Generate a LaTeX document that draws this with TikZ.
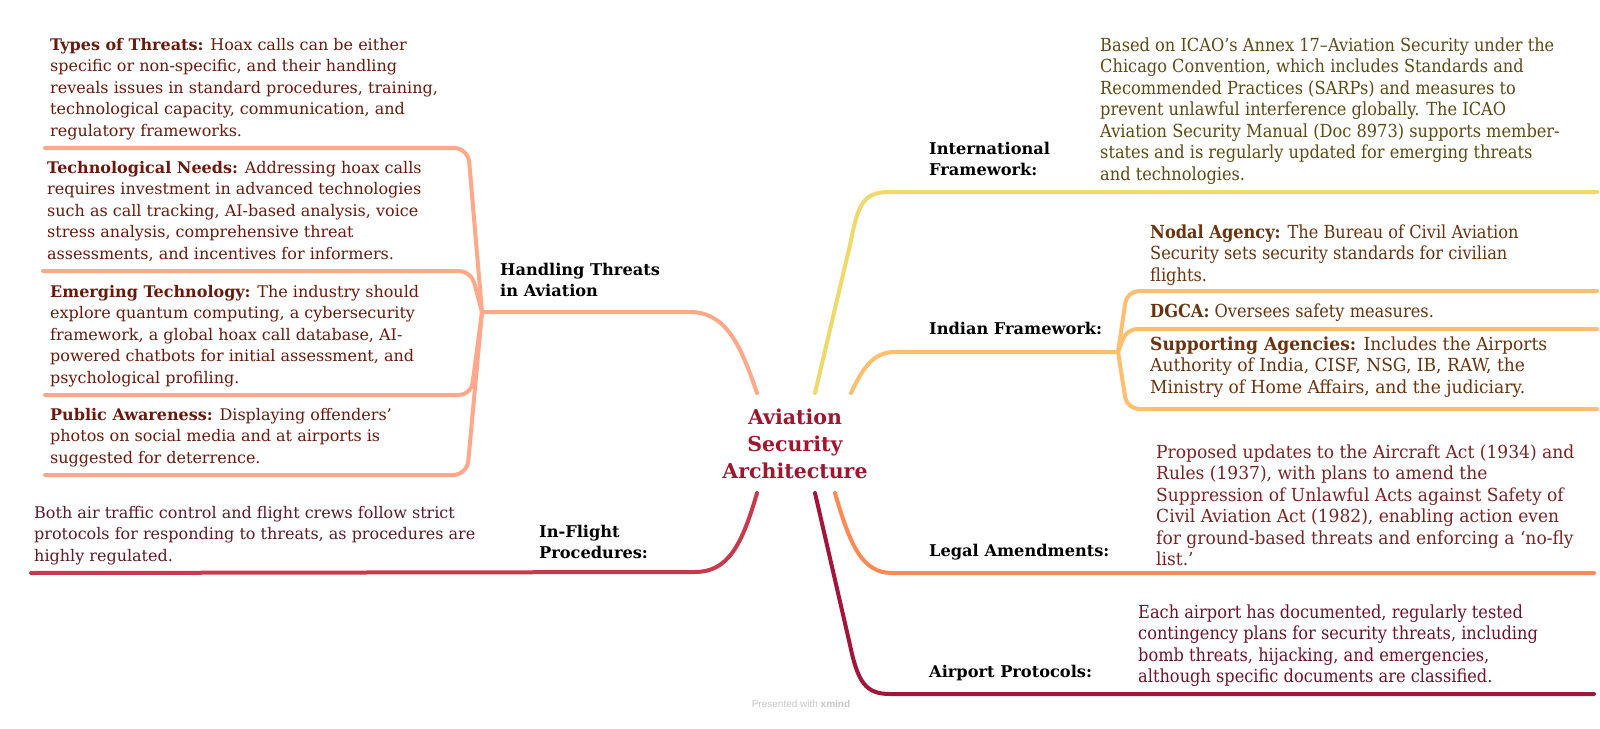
\documentclass[tikz,border=0pt]{standalone}
\usepackage{fontspec}
\setmainfont{DejaVu Serif}
\newfontfamily\rfont{DejaVu Serif}[FakeStretch=0.90]
\newfontfamily\rfontw{DejaVu Serif}[FakeStretch=0.95]
\newfontfamily\wmfont{Liberation Sans}
\definecolor{salmon}{HTML}{FFA98A}
\definecolor{ired}{HTML}{C73A4C}
\definecolor{yel}{HTML}{EFD96A}
\definecolor{lorange}{HTML}{FFBF6E}
\definecolor{dorange}{HTML}{FF8A52}
\definecolor{crimson}{HTML}{A3163A}
\definecolor{ltext}{HTML}{6A1A0C}
\definecolor{itext}{HTML}{5E4A14}
\definecolor{ntext}{HTML}{6B3410}
\definecolor{gtext}{HTML}{7A2424}
\definecolor{atext}{HTML}{6E1428}
\definecolor{ftext}{HTML}{5E1A26}
\definecolor{ctext}{HTML}{A0162E}
\begin{document}
\begin{tikzpicture}[x=1bp,y=-1bp,
  detail/.style={anchor=north west, inner sep=0pt, align=left, font=\fontsize{16bp}{21.5bp}\selectfont},
  rdetail/.style={anchor=north west, inner sep=0pt, align=left, font=\rfont\fontsize{18bp}{21.5bp}\selectfont},
  rdetailw/.style={anchor=north west, inner sep=0pt, align=left, font=\rfontw\fontsize{18bp}{21.5bp}\selectfont},
  toplabel/.style={anchor=north west, inner sep=0pt, align=left, text=black, font=\bfseries\fontsize{16.2bp}{21bp}\selectfont},
  conn/.style={line width=4bp, line cap=round, line join=round}]
\fill[white] (0,0) rectangle (1600,729);
\useasboundingbox (0,0) rectangle (1600,729);

% central topic
\node[inner sep=0pt, align=center, text=ctext, font=\bfseries\fontsize{20.5bp}{27bp}\selectfont] (center) at (795,444) {Aviation\\Security\\Architecture};
\coordinate (cTL) at (757,393);
\coordinate (cTR1) at (815,393);
\coordinate (cTR2) at (851,393);
\coordinate (cBL) at (757,493);
\coordinate (cBR1) at (815,493);
\coordinate (cBR2) at (835,493);

% ---------- left branch: Handling Threats ----------
\coordinate (hubL) at (482,312);
\node[toplabel] (hand) at (500,261) {\strut Handling Threats\\in Aviation};
\draw[conn,salmon] (hubL) -- (690,312) .. controls (728,312) and (742,350) .. (cTL);

\node[detail,text=ltext] (types) at (50,35) {\strut\textbf{Types of Threats:} Hoax calls can be either\\specific or non-specific, and their handling\\reveals issues in standard procedures, training,\\technological capacity, communication, and\\regulatory frameworks.};
\coordinate (typesE) at (45,148);
\draw[conn,salmon,rounded corners=14] (hubL) -- (468,148) -- (typesE);

\node[detail,text=ltext] (tech) at (47,158) {\strut\textbf{Technological Needs:} Addressing hoax calls\\requires investment in advanced technologies\\such as call tracking, AI-based analysis, voice\\stress analysis, comprehensive threat\\assessments, and incentives for informers.};
\coordinate (techE) at (43,271);
\draw[conn,salmon,rounded corners=12] (hubL) -- (471,271) -- (techE);

\node[detail,text=ltext] (emerg) at (50,282) {\strut\textbf{Emerging Technology:} The industry should\\explore quantum computing, a cybersecurity\\framework, a global hoax call database, AI-\\powered chatbots for initial assessment, and\\psychological profiling.};
\coordinate (emergE) at (45,395);
\draw[conn,salmon,rounded corners=12] (hubL) -- (471,395) -- (emergE);

\node[detail,text=ltext] (public) at (50,405) {\strut\textbf{Public Awareness:} Displaying offenders'\\photos on social media and at airports is\\suggested for deterrence.};
\coordinate (publicE) at (45,475);
\draw[conn,salmon,rounded corners=14] (hubL) -- (467,475) -- (publicE);

% ---------- left branch: In-Flight ----------
\node[toplabel] (infl) at (539,523) {\strut In-Flight\\Procedures:};
\node[detail,text=ftext] (infltext) at (34,503) {\strut Both air traffic control and flight crews follow strict\\protocols for responding to threats, as procedures are\\highly regulated.};
\coordinate (inflE) at (31,573);
\draw[conn,ired] (cBL) .. controls (742,545) and (728,572) .. (695,572) -- (inflE);

% ---------- right branch: International ----------
\node[toplabel] (intl) at (929,140) {\strut International\\Framework:};
\node[rdetail,text=itext] (intltext) at (1100,36) {\strut Based on ICAO’s Annex 17–Aviation Security under the\\Chicago Convention, which includes Standards and\\Recommended Practices (SARPs) and measures to\\prevent unlawful interference globally. The ICAO\\Aviation Security Manual (Doc 8973) supports member-\\states and is regularly updated for emerging threats\\and technologies.};
\coordinate (intlE) at (1597,192);
\draw[conn,yel] (cTR1) -- (850,245) .. controls (858,205) and (862,192) .. (890,192) -- (intlE);

% ---------- right branch: Indian ----------
\node[toplabel] (indian) at (929,320) {\strut Indian Framework:};
\coordinate (hubR) at (1118,352);
\draw[conn,lorange] (cTR2) .. controls (862,370) and (872,352) .. (895,352) -- (hubR);

\node[rdetail,text=ntext] (nodal) at (1150,223) {\strut\textbf{Nodal Agency:} The Bureau of Civil Aviation\\Security sets security standards for civilian\\flights.};
\coordinate (nodalE) at (1597,291);
\draw[conn,lorange,rounded corners=12] (hubR) -- (1127,291) -- (nodalE);

\node[rdetail,text=ntext] (dgca) at (1150,302) {\strut\textbf{DGCA:} Oversees safety measures.};
\coordinate (dgcaE) at (1597,329);
\draw[conn,lorange,rounded corners=10] (hubR) -- (1127,329) -- (dgcaE);

\node[rdetailw,text=ntext] (supp) at (1150,335) {\strut\textbf{Supporting Agencies:} Includes the Airports\\Authority of India, CISF, NSG, IB, RAW, the\\Ministry of Home Affairs, and the judiciary.};
\coordinate (suppE) at (1597,409);
\draw[conn,lorange,rounded corners=12] (hubR) -- (1127,409) -- (suppE);

% ---------- right branch: Legal ----------
\node[toplabel] (legal) at (929,542) {\strut Legal Amendments:};
\node[rdetailw,text=gtext] (legaltext) at (1156,443) {\strut Proposed updates to the Aircraft Act (1934) and\\Rules (1937), with plans to amend the\\Suppression of Unlawful Acts against Safety of\\Civil Aviation Act (1982), enabling action even\\for ground-based threats and enforcing a ‘no-fly\\list.’};
\coordinate (legalE) at (1594,573);
\draw[conn,dorange] (cBR2) .. controls (850,545) and (862,573) .. (892,573) -- (legalE);

% ---------- right branch: Airport ----------
\node[toplabel] (airport) at (929,663) {\strut Airport Protocols:};
\node[rdetail,text=atext] (airtext) at (1138,603) {\strut Each airport has documented, regularly tested\\contingency plans for security threats, including\\bomb threats, hijacking, and emergencies,\\although specific documents are classified.};
\coordinate (airE) at (1594,694);
\draw[conn,crimson] (cBR1) -- (850,645) .. controls (858,683) and (866,694) .. (890,694) -- (airE);

% watermark
\node[inner sep=0pt, text=black!22, font=\wmfont\fontsize{10bp}{12bp}\selectfont] (wm) at (801,704) {Presented with \textbf{xmind}};
\end{tikzpicture}
\end{document}
